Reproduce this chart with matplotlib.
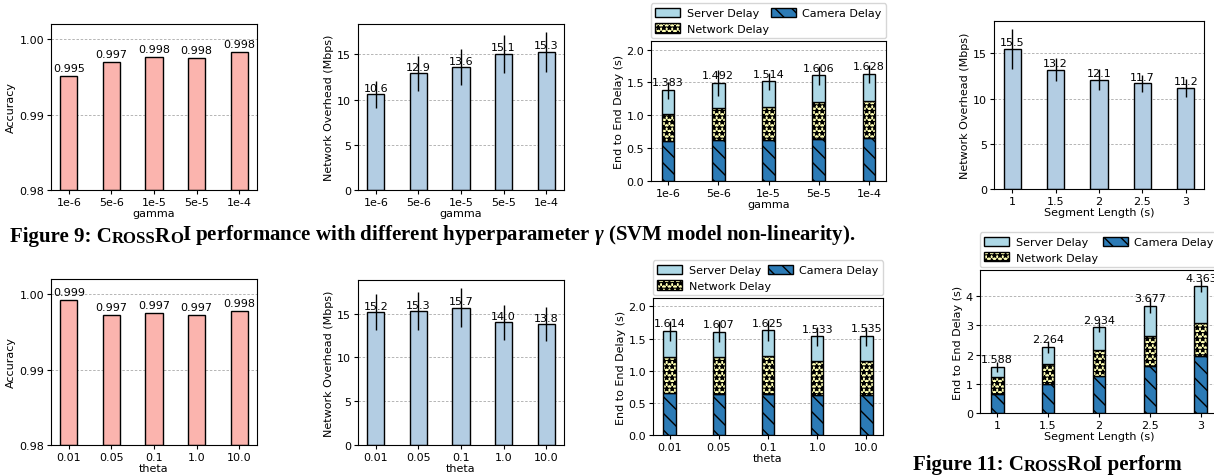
import matplotlib.pyplot as plt
import numpy as np

plt.rcParams['font.family'] = 'DejaVu Sans'
plt.rcParams['font.size'] = 8
plt.rcParams['mathtext.fontset'] = 'custom'
plt.rcParams['mathtext.it'] = 'Liberation Serif:italic:bold'
plt.rcParams['mathtext.rm'] = 'Liberation Serif:bold'

# x categories
gamma_labels = ['1e-6', '5e-6', '1e-5', '5e-5', '1e-4']
theta_labels = ['0.01', '0.05', '0.1', '1.0', '10.0']
seg_labels = ['1', '1.5', '2', '2.5', '3']

# accuracy
gamma_acc = [0.9951, 0.9970, 0.9976, 0.99756, 0.9983]
theta_acc = [0.99925, 0.99725, 0.99747, 0.99725, 0.99774]

# network overhead (Mbps) and spread
gamma_net = [10.6, 12.9, 13.6, 15.1, 15.3]
gamma_net_err = [1.5, 1.95, 2.0, 2.1, 2.2]
theta_net = [15.2, 15.3, 15.7, 14.0, 13.8]
theta_net_err = [2.1, 2.15, 2.25, 2.0, 1.95]
seg_net = [15.5, 13.2, 12.1, 11.7, 11.2]
seg_net_err = [2.2, 1.3, 1.15, 0.95, 1.0]

# end to end delay parts (s)
gamma_cam = [0.608, 0.618, 0.618, 0.638, 0.653]
gamma_netd = [0.405, 0.496, 0.506, 0.562, 0.562]
gamma_srv = [0.370, 0.378, 0.390, 0.406, 0.413]
gamma_delay_err = [0.13, 0.2, 0.13, 0.15, 0.14]

theta_cam = [0.648, 0.637, 0.637, 0.627, 0.627]
theta_netd = [0.559, 0.570, 0.586, 0.518, 0.518]
theta_srv = [0.407, 0.400, 0.402, 0.388, 0.390]
theta_delay_err = [0.16, 0.16, 0.16, 0.15, 0.15]

seg_cam = [0.636, 0.977, 1.284, 1.625, 1.943]
seg_netd = [0.591, 0.703, 0.876, 1.025, 1.157]
seg_srv = [0.361, 0.584, 0.774, 1.027, 1.263]
seg_delay_err = [0.17, 0.2, 0.17, 0.25, 0.2]

W, H = 1214, 477


def box(l, r, t, b):
    return [l / W, 1 - b / H, (r - l) / W, (b - t) / H]


def style(ax, xlabel, ylabel):
    ax.set_xlabel(xlabel, labelpad=1)
    ax.set_ylabel(ylabel, labelpad=2)
    ax.yaxis.grid(True, linestyle=(0, (3, 2)), color='#aaaaaa', linewidth=0.6)
    ax.set_axisbelow(True)
    ax.tick_params(labelsize=8, length=3, pad=2)


def acc_plot(ax, labels, vals, xlabel):
    x = np.arange(len(labels))
    ax.bar(x, np.array(vals) - 0.98, 0.4, bottom=0.98, color='#fbb4ae', edgecolor='black', linewidth=1)
    for xi, v in zip(x, vals):
        ax.annotate(f"{v:.3f}", (xi, v), xytext=(0, 2), textcoords='offset points',
                    ha='center', va='bottom', fontsize=8)
    ax.set_ylim(0.98, 1.002)
    ax.set_yticks([0.98, 0.99, 1.00])
    ax.set_yticklabels(['0.98', '0.99', '1.00'])
    ax.set_xticks(x)
    ax.set_xticklabels(labels)
    style(ax, xlabel, 'Accuracy')


def net_plot(ax, labels, vals, err, xlabel):
    x = np.arange(len(labels))
    ax.bar(x, vals, 0.4, color='#b3cde3', edgecolor='black', linewidth=1)
    ax.errorbar(x, vals, yerr=err, fmt='none', ecolor='black', elinewidth=1)
    for xi, v in zip(x, vals):
        ax.annotate(f"{v:.1f}", (xi, v), xytext=(0, 1), textcoords='offset points',
                    ha='center', va='bottom', fontsize=8)
    ax.set_xticks(x)
    ax.set_xticklabels(labels)
    style(ax, xlabel, 'Network Overhead (Mbps)')


def delay_plot(ax, labels, cam, netd, srv, err, xlabel, top):
    x = np.arange(len(labels))
    cam = np.array(cam)
    netd = np.array(netd)
    srv = np.array(srv)
    total = cam + netd + srv
    w = 0.25
    b_cam = ax.bar(x, cam, w, color='#2c7bb6', edgecolor='black', linewidth=1, hatch='\\\\')
    b_net = ax.bar(x, netd, w, bottom=cam, color='#ffffb3', edgecolor='black', linewidth=1, hatch='***')
    b_srv = ax.bar(x, srv, w, bottom=cam + netd, color='#add8e6', edgecolor='black', linewidth=1)
    ax.errorbar(x, total, yerr=err, fmt='none', ecolor='black', elinewidth=1)
    for xi, v in zip(x, total):
        ax.annotate(f"{v:.3f}", (xi, v), xytext=(0, 2), textcoords='offset points',
                    ha='center', va='bottom', fontsize=8)
    ax.set_ylim(0, top)
    ax.set_xticks(x)
    ax.set_xticklabels(labels)
    style(ax, xlabel, 'End to End Delay (s)')
    ax.legend([b_srv, b_net, b_cam], ['Server Delay', 'Network Delay', 'Camera Delay'],
              ncol=2, mode='expand', loc='lower left', bbox_to_anchor=(0, 1.02, 1, 0.2),
              borderaxespad=0, fontsize=8, handlelength=2.2, handleheight=0.9,
              labelspacing=0.45, columnspacing=0.5, handletextpad=0.6, borderpad=0.4)


def caption(fig, x, y, parts, size):
    # draw text pieces one after another to fake small caps
    last = None
    prev_small = False
    for s, small in parts:
        fs = size * 0.8 if small else size
        if last is None:
            last = fig.text(x, y, s, fontsize=fs, fontweight='bold',
                            family='Liberation Serif', va='baseline')
        else:
            dx = -0.6 if prev_small else 0
            last = fig.axes[0].annotate(s, xy=(1, 0), xycoords=last, xytext=(dx, 0),
                                        textcoords='offset points', va='bottom', ha='left',
                                        fontsize=fs, fontweight='bold', family='Liberation Serif',
                                        annotation_clip=False)
        prev_small = small


fig = plt.figure(figsize=(W / 100, H / 100), dpi=100)

ax1 = fig.add_axes(box(51, 257, 25, 191))
ax2 = fig.add_axes(box(358, 564, 25, 191))
ax3 = fig.add_axes(box(651, 886, 42, 182))
ax4 = fig.add_axes(box(994, 1204, 22, 190))
ax5 = fig.add_axes(box(51, 257, 280, 446))
ax6 = fig.add_axes(box(358, 564, 281, 446))
ax7 = fig.add_axes(box(653, 883, 299, 436))
ax8 = fig.add_axes(box(980, 1218, 271, 414))

acc_plot(ax1, gamma_labels, gamma_acc, 'gamma')
net_plot(ax2, gamma_labels, gamma_net, gamma_net_err, 'gamma')
delay_plot(ax3, gamma_labels, gamma_cam, gamma_netd, gamma_srv, gamma_delay_err, 'gamma', 2.13)
net_plot(ax4, seg_labels, seg_net, seg_net_err, 'Segment Length (s)')
acc_plot(ax5, theta_labels, theta_acc, 'theta')
net_plot(ax6, theta_labels, theta_net, theta_net_err, 'theta')
delay_plot(ax7, theta_labels, theta_cam, theta_netd, theta_srv, theta_delay_err, 'theta', 2.13)
delay_plot(ax8, seg_labels, seg_cam, seg_netd, seg_srv, seg_delay_err, 'Segment Length (s)', 4.9)

caption(fig, 10 / W, 1 - 242 / H,
        [('Figure 9: C', False), ('ROSS', True), ('R', False), ('O', True),
         ('I performance with different hyperparameter $\\gamma$ (SVM model non-linearity).', False)],
        15)
caption(fig, 913 / W, 1 - 470 / H,
        [('Figure 11: C', False), ('ROSS', True), ('R', False), ('O', True),
         ('I perform', False)],
        15)

fig.savefig('out.png', dpi=100)
